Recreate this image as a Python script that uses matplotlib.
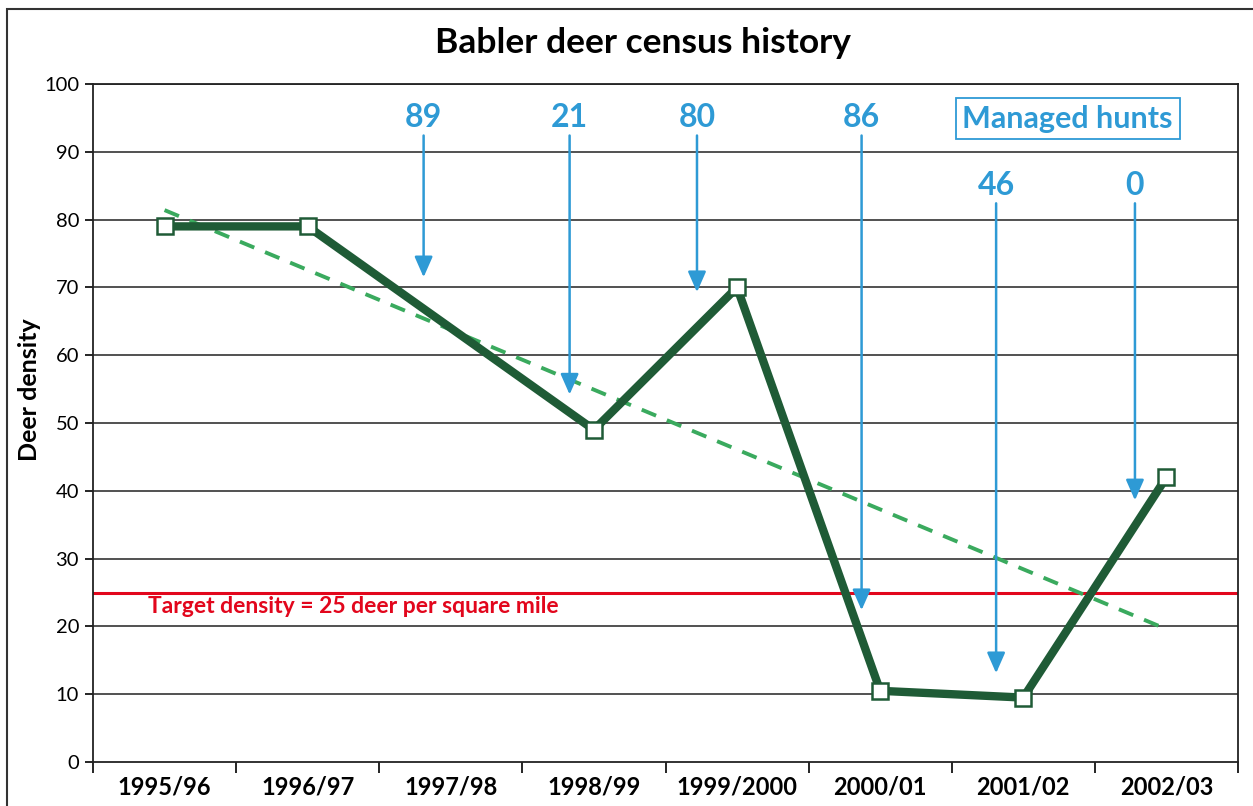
import numpy as np
import matplotlib
matplotlib.use('Agg')
import matplotlib.pyplot as plt
from matplotlib.patches import Rectangle

# data
seasons = ["1995/96", "1996/97", "1997/98", "1998/99", "1999/2000", "2000/01", "2001/02", "2002/03"]
density = [79, 79, np.nan, 49, 70, 10.5, 9.5, 42]
trend_ends = [81.4, 19.6]          # dashed trend line, first and last season
target = 25

hunt_counts = ["89", "21", "80", "86", "46", "0"]
hunt_x = [1.81, 2.83, 3.72, 4.87, 5.81, 6.78]
hunt_top = [92.4, 92.4, 92.4, 92.4, 82.4, 82.4]
hunt_tip = [71.5, 54.2, 69.3, 22.4, 13.1, 38.6]

dark_green = "#1f5b36"
light_green = "#3aaa5e"
blue = "#2e9ad5"
red = "#e2061c"

plt.rcParams['font.family'] = ['Lato', 'DejaVu Sans']

fig = plt.figure(figsize=(12.53, 8.06), dpi=100)
ax = fig.add_axes([93/1253, 1 - 762/806, (1238 - 93)/1253, (762 - 84)/806])

# outer border (runs off the right and bottom edges)
fig.patches.append(Rectangle((7/1253, -0.05), 1.1, 1 - 9/806 + 0.05, transform=fig.transFigure,
                             fill=False, edgecolor="#333333", linewidth=1.5))

x = np.arange(len(seasons))
d = np.array(density)
ok = ~np.isnan(d)

# grid
for v in range(10, 101, 10):
    ax.axhline(v, color="#333333", linewidth=1.2, zorder=1)

ax.axhline(target, color=red, linewidth=2.2, zorder=2)
ax.text(-0.115, 22.9, "Target density = 25 deer per square mile", color=red,
        fontsize=16.5, fontweight="bold", va="center", ha="left", zorder=3)

ax.plot([x[0], x[-1]], trend_ends, color=light_green, linewidth=2.8,
        linestyle=(0, (4, 3)), zorder=3)
ax.plot(x[ok], d[ok], color=dark_green, linewidth=6, zorder=4,
        marker="s", markersize=11, markerfacecolor="white",
        markeredgecolor=dark_green, markeredgewidth=1.8)

# managed hunt arrows
for lab, hx, top, tip in zip(hunt_counts, hunt_x, hunt_top, hunt_tip):
    ax.annotate("", xy=(hx, tip), xytext=(hx, top),
                arrowprops=dict(arrowstyle="-|>,head_length=1.25,head_width=0.55",
                                color=blue, linewidth=1.8, shrinkA=0, shrinkB=0),
                zorder=5)
    ax.text(hx, top + 2.6, lab, color=blue, fontsize=23, fontweight="bold",
            ha="center", va="center", zorder=5)

ax.text(6.31, 94.9, "Managed hunts", color=blue, fontsize=22, fontweight="bold",
        ha="center", va="center", zorder=5,
        bbox=dict(boxstyle="square,pad=0.22", facecolor="white", edgecolor=blue, linewidth=1.3))

ax.set_xlim(-0.5, len(seasons) - 0.5)
ax.set_ylim(0, 100)
ax.set_yticks(range(0, 101, 10))
ax.tick_params(axis="y", length=6, width=1.2, labelsize=14.5, pad=4)
ax.set_xticks(x)
ax.set_xticklabels(seasons, fontsize=17, fontweight="bold")
ax.set_xticks(np.arange(-0.5, len(seasons), 1), minor=True)
ax.tick_params(axis="x", which="major", length=0, pad=10)
ax.tick_params(axis="x", which="minor", length=8, width=1.2)
for s in ax.spines.values():
    s.set_color("#222222")
    s.set_linewidth(1.3)

ax.set_ylabel("Deer density", fontsize=18, fontweight="bold")
ax.yaxis.set_label_coords(-0.045, 0.549)
fig.text(643/1253, 1 - 43/806, "Babler deer census history", fontsize=25.5,
         fontweight="bold", ha="center", va="center")

fig.savefig("out.png", dpi=100)
